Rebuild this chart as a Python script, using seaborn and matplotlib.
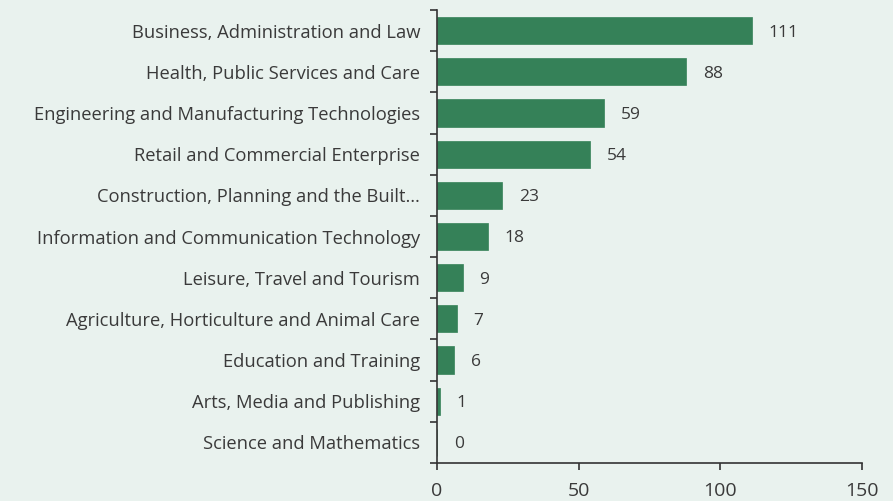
import matplotlib
matplotlib.use("Agg")
import matplotlib.pyplot as plt
import seaborn as sns
import pandas as pd
import numpy as np

categories = [
    "Business, Administration and Law",
    "Health, Public Services and Care",
    "Engineering and Manufacturing Technologies",
    "Retail and Commercial Enterprise",
    "Construction, Planning and the Built\u2026",
    "Information and Communication Technology",
    "Leisure, Travel and Tourism",
    "Agriculture, Horticulture and Animal Care",
    "Education and Training",
    "Arts, Media and Publishing",
    "Science and Mathematics",
]
values = [111, 88, 59, 54, 23, 18, 9, 7, 6, 1, 0]
x_ticks = [0, 50, 100, 150]

df = pd.DataFrame({"category": categories, "value": values})

sns.set_style("white")
plt.rcParams["font.family"] = ["Open Sans", "DejaVu Sans"]

bg = "#e9f2ee"
bar_color = "#358158"
text_color = "#3a3a3a"

fig = plt.figure(figsize=(8.93, 5.01), dpi=100, facecolor=bg)
ax = fig.add_axes([437/893, 1-463/501, (862-437)/893, (463-10)/501])
ax.set_facecolor(bg)

sns.barplot(data=df, x="value", y="category", color=bar_color, width=0.66,
            saturation=1, ax=ax, orient="h", edgecolor=bar_color, linewidth=0.5)

ax.set_xlim(0, 150)
ax.set_ylim(len(categories)-0.5, -0.5)
ax.set_xticks(x_ticks)
ax.set_xticklabels([str(t) for t in x_ticks], fontsize=14, color=text_color)
ax.set_xlabel("")
ax.set_ylabel("")

ax.tick_params(axis="y", which="both", left=True)
ax.tick_params(axis="y", which="major", length=0, pad=12, labelsize=13.2, labelcolor=text_color)
ax.set_yticks(np.arange(-0.5, len(categories), 1), minor=True)
ax.tick_params(axis="y", which="minor", length=5, width=1.2, color="#333333")
ax.tick_params(axis="x", which="major", bottom=True, length=5, width=1.2, color="#333333", pad=9)

for s in ["top", "right"]:
    ax.spines[s].set_visible(False)
for s in ["left", "bottom"]:
    ax.spines[s].set_color("#333333")
    ax.spines[s].set_linewidth(1.2)

for c in ax.containers:
    texts = ax.bar_label(c, labels=[str(v) for v in values], padding=12,
                         fontsize=12.5, color=text_color)
    for t in texts:
        t.set_va("center_baseline")

fig.savefig("out.png", dpi=100, facecolor=bg)
